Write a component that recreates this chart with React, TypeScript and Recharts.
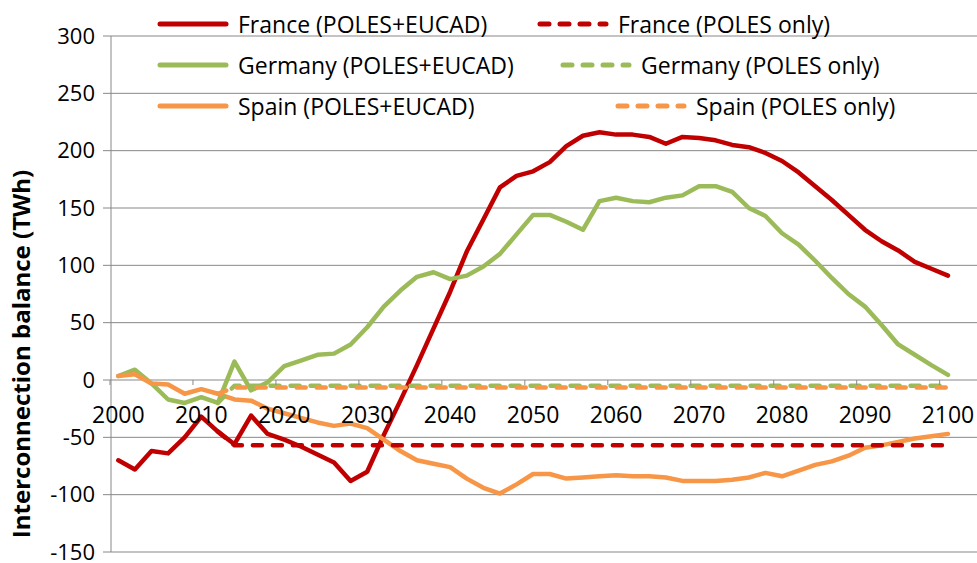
import React from 'react';
import { LineChart, Line, XAxis, YAxis, CartesianGrid, Legend } from 'recharts';

const years = [2000, 2002, 2004, 2006, 2008, 2010, 2012, 2014, 2016, 2018, 2020, 2022, 2024, 2026, 2028, 2030, 2032, 2034, 2036, 2038, 2040, 2042, 2044, 2046, 2048, 2050, 2052, 2054, 2056, 2058, 2060, 2062, 2064, 2066, 2068, 2070, 2072, 2074, 2076, 2078, 2080, 2082, 2084, 2086, 2088, 2090, 2092, 2094, 2096, 2098, 2100];

const franceEucad = [-70, -78, -62, -64, -50, -32, -45, -56, -31, -47, -52, -58, -65, -72, -88, -80, -48, -18, 13, 45, 77, 112, 140, 168, 178, 182, 190, 204, 213, 216, 214, 214, 212, 206, 212, 211, 209, 205, 203, 198, 191, 181, 169, 157, 144, 131, 121, 113, 103, 97, 91];
const germanyEucad = [3.5, 9, -3, -17, -20, -15, -20, 16, -9, -2, 12, 17, 22, 23, 31, 46, 64, 78, 90, 94, 88, 91, 99, 110, 127, 144, 144, 138, 131, 156, 159, 156, 155, 159, 161, 169, 169, 164, 150, 143, 128, 118, 104, 89, 75, 64, 48, 31, 22, 13, 4.5];
const spainEucad = [3.5, 5, -3, -4, -12, -8, -12, -17, -18, -25, -29, -33, -37, -40, -38, -42, -52, -62, -70, -73, -76, -86, -94, -99, -91, -82, -82, -86, -85, -84, -83, -84, -84, -85, -88, -88, -88, -87, -85, -81, -84, -79, -74, -71, -66, -59, -57, -54, -51, -49, -47];

const franceOnly = [null, null, null, null, null, null, -45, -57, -57, -57, -57, -57, -57, -57, -57, -57, -57, -57, -57, -57, -57, -57, -57, -57, -57, -57, -57, -57, -57, -57, -57, -57, -57, -57, -57, -57, -57, -57, -57, -57, -57, -57, -57, -57, -57, -57, -57, -57, -57, -57, -57];
const germanyOnly = [null, null, null, null, null, null, -20, -5, -5, -5, -5, -5, -5, -5, -5, -5, -5, -5, -5, -5, -5, -5, -5, -5, -5, -5, -5, -5, -5, -5, -5, -5, -5, -5, -5, -5, -5, -5, -5, -5, -5, -5, -5, -5, -5, -5, -5, -5, -5, -5, -5];
const spainOnly = [null, null, null, null, null, null, -12, -6.5, -6.5, -6.5, -6.5, -6.5, -6.5, -6.5, -6.5, -6.5, -6.5, -6.5, -6.5, -6.5, -6.5, -6.5, -6.5, -6.5, -6.5, -6.5, -6.5, -6.5, -6.5, -6.5, -6.5, -6.5, -6.5, -6.5, -6.5, -6.5, -6.5, -6.5, -6.5, -6.5, -6.5, -6.5, -6.5, -6.5, -6.5, -6.5, -6.5, -6.5, -6.5, -6.5, -6.5];

const xTicks = [2000, 2010, 2020, 2030, 2040, 2050, 2060, 2070, 2080, 2090, 2100];
const yTicks = [-150, -100, -50, 0, 50, 100, 150, 200, 250, 300];

const RED = '#C00000';
const GREEN = '#9BBB59';
const ORANGE = '#F79646';
const GRID = '#888888';
const FONT = '"Open Sans", sans-serif';

const data = years.map((year, i) => ({
  year,
  franceEucad: franceEucad[i],
  germanyEucad: germanyEucad[i],
  spainEucad: spainEucad[i],
  franceOnly: franceOnly[i],
  germanyOnly: germanyOnly[i],
  spainOnly: spainOnly[i],
}));

const W = 977;
const H = 563;
const TOP = 36;
const BOTTOM = 552;
const LEFT = 111;
const Y_MIN = -150;
const Y_MAX = 300;
const X_MIN = 1999.12;
const X_MAX = 2103.5;
const yZero = TOP + ((BOTTOM - TOP) * (Y_MAX - 0)) / (Y_MAX - Y_MIN);
const pxPerYear = (W - LEFT) / (X_MAX - X_MIN);

const series = [
  { key: 'franceEucad', name: 'France (POLES+EUCAD)', color: RED, dashed: false, lx: 160, row: 0 },
  { key: 'germanyEucad', name: 'Germany (POLES+EUCAD)', color: GREEN, dashed: false, lx: 160, row: 1 },
  { key: 'spainEucad', name: 'Spain (POLES+EUCAD)', color: ORANGE, dashed: false, lx: 160, row: 2 },
  { key: 'franceOnly', name: 'France (POLES only)', color: RED, dashed: true, lx: 540, row: 0 },
  { key: 'germanyOnly', name: 'Germany (POLES only)', color: GREEN, dashed: true, lx: 563, row: 1 },
  { key: 'spainOnly', name: 'Spain (POLES only)', color: ORANGE, dashed: true, lx: 618, row: 2 },
];

const DASH = '9 11';

const renderXTick = (props: any) => {
  const { x, payload } = props;
  const tx = x - pxPerYear;
  return (
    <g>
      <line x1={tx} x2={tx} y1={yZero} y2={yZero + 5} stroke={GRID} strokeWidth={1} />
      <text x={x} y={yZero + 43} textAnchor="middle" fontSize={23} fill="#000" fontFamily={FONT}>
        {payload.value}
      </text>
    </g>
  );
};

const renderLegend = () => (
  <svg width={W} height={125} style={{ display: 'block', overflow: 'visible' }}>
    {series.map((s) => {
      const cy = 24 + s.row * 41;
      return (
        <g key={s.key}>
          <line
            x1={s.lx}
            x2={s.lx + 66}
            y1={cy}
            y2={cy}
            stroke={s.color}
            strokeWidth={5}
            strokeLinecap="round"
            strokeDasharray={s.dashed ? DASH : undefined}
          />
          <text x={s.lx + 78} y={cy + 9} fontSize={23} fill="#000" fontFamily={FONT}>
            {s.name}
          </text>
        </g>
      );
    })}
  </svg>
);

const TitleLabel = () => (
  <text
    x={20}
    y={354}
    transform="rotate(-90 20 354)"
    textAnchor="middle"
    dominantBaseline="central"
    fontSize={24}
    fontWeight="bold"
    fill="#000"
    fontFamily={FONT}
  >
    Interconnection balance (TWh)
  </text>
);

export default function App() {
  return (
    <div style={{ position: 'absolute', left: 0, top: 0, width: W, height: H, fontFamily: FONT, background: '#fff' }}>
      <LineChart
        width={W}
        height={H}
        data={data}
        margin={{ top: TOP, right: 0, bottom: 0, left: 0 }}
        style={{ overflow: 'visible' }}
      >
        <CartesianGrid vertical={false} stroke={GRID} strokeWidth={1} />
        <XAxis
          dataKey="year"
          type="number"
          domain={[X_MIN, X_MAX]}
          ticks={xTicks}
          interval={0}
          allowDataOverflow
          axisLine={false}
          tickLine={false}
          height={H - BOTTOM}
          tick={renderXTick}
        />
        <YAxis
          type="number"
          domain={[Y_MIN, Y_MAX]}
          ticks={yTicks}
          interval={0}
          width={LEFT}
          tickSize={8}
          tickMargin={8}
          axisLine={{ stroke: GRID }}
          tickLine={{ stroke: GRID }}
          tick={{ fontSize: 22, fill: '#000', fontFamily: FONT }}
          label={{ content: TitleLabel }}
        />
        <Legend
          layout="horizontal"
          verticalAlign="middle"
          align="center"
          content={renderLegend}
          wrapperStyle={{ position: 'absolute', top: 0, left: 0, width: W, height: 125 }}
        />
        {series.map((s) => (
          <Line
            key={s.key}
            type="linear"
            dataKey={s.key}
            name={s.name}
            stroke={s.color}
            strokeWidth={4.5}
            strokeLinejoin="round"
            strokeLinecap="round"
            strokeDasharray={s.dashed ? DASH : undefined}
            dot={false}
            activeDot={false}
            connectNulls={false}
            isAnimationActive={false}
          />
        ))}
      </LineChart>
    </div>
  );
}
